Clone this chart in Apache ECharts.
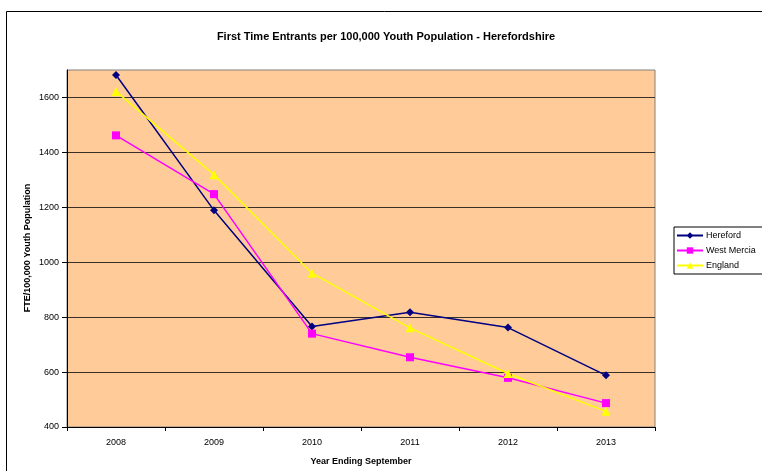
<!DOCTYPE html>
<html><head><meta charset="utf-8">
<script src="https://cdn.jsdelivr.net/npm/echarts@6/dist/echarts.min.js"></script>
<style>html,body{margin:0;padding:0;background:#fff}#c{width:762px;height:471px}</style>
</head><body><div id="c"></div>
<script>
const categories = ['2008','2009','2010','2011','2012','2013'];
const hereford = [1682, 1189, 766, 818, 762, 588];
const westMercia = [1462, 1248, 740, 654, 579, 487];
const england = [1622, 1319, 960, 761, 595, 457];
const yTicks = [400, 600, 800, 1000, 1200, 1400, 1600];
const yName = 'FTE/100,000 Youth Population';
const F = 'Liberation Sans, Arial, sans-serif';
const chart = echarts.init(document.getElementById('c'));
chart.setOption({
  animation: false,
  backgroundColor: '#fff',
  title: { text: 'First Time Entrants per 100,000 Youth Population - Herefordshire', left: 381, textAlign: 'center', top: 26,
    textStyle: { fontFamily: F, fontSize: 11, fontWeight: 'bold', color: '#000' } },
  graphic: [
    { type: 'rect', shape: { x: 6.5, y: 11.5, width: 800, height: 500 }, style: { fill: 'none', stroke: '#000', lineWidth: 1 }, z: 0 },
    { type: 'text', x: 28, y: 248, rotation: Math.PI / 2,
      style: { text: yName, fontFamily: F, fontSize: 9, fontWeight: 'bold', fill: '#000', align: 'center', verticalAlign: 'middle' } }
  ],
  grid: { left: 67, top: 70, width: 588, height: 357, show: true, backgroundColor: '#FFCC99', borderColor: '#808080', borderWidth: 1 },
  legend: { orient: 'vertical', left: 674, top: 227, itemWidth: 26, itemHeight: 8, itemGap: 6,
    padding: [4, 20, 4, 2], borderColor: '#000', borderWidth: 1,
    textStyle: { fontFamily: F, fontSize: 9, color: '#000', padding: [0, 0, 0, -2] },
    data: ['Hereford', 'West Mercia', 'England'] },
  xAxis: { type: 'category', data: categories, boundaryGap: true,
    name: 'Year Ending September', nameLocation: 'middle', nameGap: 30,
    nameTextStyle: { fontFamily: F, fontSize: 9, fontWeight: 'bold', color: '#000' },
    axisLine: { lineStyle: { color: '#000', width: 1 } },
    axisTick: { show: true, inside: false, length: 4, lineStyle: { color: '#000' } },
    axisLabel: { fontFamily: F, fontSize: 9, color: '#000', margin: 11 },
    splitLine: { show: false } },
  yAxis: { type: 'value', min: 400, max: 1700, interval: 100,
    axisLine: { show: true, lineStyle: { color: '#000', width: 1 } },
    axisTick: { show: true, length: 5, customValues: yTicks, lineStyle: { color: '#000' } },
    axisLabel: { fontFamily: F, fontSize: 9, color: '#000', margin: 8, customValues: yTicks,
      formatter: function (v) { return String(v); } },
    splitLine: { show: true, lineStyle: { color: '#3a3027', width: 1 },
      interval: function (i, v) { return v % 200 === 0 && v < 1700 && v > 400; } } },
  series: [
    { name: 'Hereford', type: 'line', data: hereford, symbol: 'diamond', symbolSize: 8,
      lineStyle: { color: '#000080', width: 1.5 }, itemStyle: { color: '#000080' } },
    { name: 'West Mercia', type: 'line', data: westMercia, symbol: 'rect', symbolSize: 8,
      lineStyle: { color: '#FF00FF', width: 1.5 }, itemStyle: { color: '#FF00FF' } },
    { name: 'England', type: 'line', data: england, symbol: 'triangle', symbolSize: 9,
      lineStyle: { color: '#FFFF00', width: 1.5 }, itemStyle: { color: '#FFFF00' } }
  ]
});
</script></body></html>
